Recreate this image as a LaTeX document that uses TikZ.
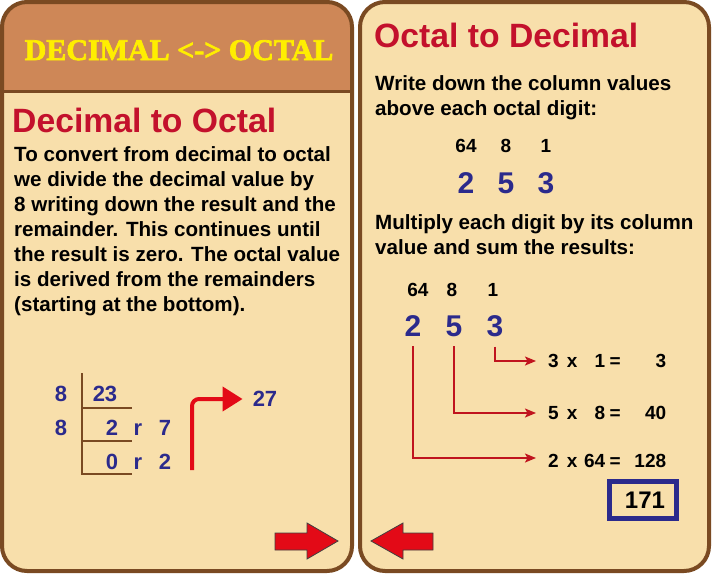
\documentclass[tikz,border=0pt]{standalone}
\usepackage{fontspec}
\setmainfont{Liberation Sans}
\newfontfamily\ttlfont[BoldFeatures={FakeBold=2.5}]{Liberation Serif}
\usetikzlibrary{arrows.meta}
\definecolor{panel}{HTML}{F8DFAB}
\definecolor{hdr}{HTML}{CE8757}
\definecolor{bord}{HTML}{7A4A22}
\definecolor{headred}{HTML}{C3112C}
\definecolor{dblue}{HTML}{2B2A8C}
\definecolor{arrred}{HTML}{E30A17}
\definecolor{linered}{HTML}{C0141E}
\definecolor{ttlyellow}{HTML}{FFEE00}
\begin{document}
\begin{tikzpicture}[x=1pt,y=-1pt,
  body/.style={font=\fontsize{20.6}{25}\selectfont\bfseries, align=left, anchor=north west, inner sep=0pt, text=black},
  head/.style={font=\fontsize{33.7}{36}\selectfont\bfseries, text=headred, anchor=base west, inner sep=0pt},
  divnum/.style={font=\fontsize{22}{24}\selectfont\bfseries, text=dblue, anchor=base, inner sep=0pt},
  colval/.style={font=\fontsize{19}{22}\selectfont\bfseries, text=black, anchor=base, inner sep=0pt},
  digit/.style={font=\fontsize{30}{32}\selectfont\bfseries, text=dblue, anchor=base, inner sep=0pt},
  eqn/.style={font=\fontsize{19}{22}\selectfont\bfseries, text=black, anchor=west, inner sep=0pt},
  eqarrow/.style={draw=linered, line width=1.6pt, -{Stealth[length=11pt,width=9pt,inset=2.5pt]}},
  bigarrow/.style={draw=arrred, line width=4pt, rounded corners=7pt, -{Triangle[length=20pt,width=24pt]}},
  divline/.style={draw=bord, line width=2pt},
  blockarrow/.style={fill=arrred, draw=black!75, line width=0.8pt, line join=miter},
  panelborder/.style={draw=bord, line width=4pt, rounded corners=25pt}
]
\newcommand{\eqrow}[3]{\makebox[14pt][l]{#1}\makebox[20pt][c]{x}\makebox[23pt][r]{#2}\makebox[20pt][c]{=}\makebox[41pt][r]{#3}}
\useasboundingbox (0,0) rectangle (713,574);
\fill[white] (0,0) rectangle (713,574);

% ---------- left panel ----------
\fill[panel, rounded corners=25pt] (2,2) rectangle (352,571);
\begin{scope}
  \clip[rounded corners=25pt] (2,2) rectangle (352,571);
  \fill[hdr] (0,0) rectangle (356,91);
\end{scope}
\draw[bord, line width=3pt] (2,91) -- (352,91);
\draw[panelborder] (2,2) rectangle (352,571);

\node[font=\ttlfont\fontsize{30}{32}\selectfont\bfseries, text=ttlyellow, anchor=base, inner sep=0pt] (ttl) at (179,60) {DECIMAL <-> OCTAL};

\node[head] (dto) at (12,132) {Decimal to Octal};
\node[body] (dtotext) at (14,146) {To convert from decimal to octal\\we divide the decimal value by\\8 writing down the result and the\\remainder. This continues until\\the result is zero. The octal value\\is derived from the remainders\\(starting at the bottom).};

% division
\draw[divline] (82,373) -- (82,475);
\draw[divline] (82,408) -- (132,408);
\draw[divline] (82,441) -- (132,441);
\draw[divline] (82,474) -- (132,474);
\node[divnum] (dv1) at (61,401.5) {8};
\node[divnum] (n23) at (105,401.5) {23};
\node[divnum] (dv2) at (61,435.5) {8};
\node[divnum] (q1) at (112,435.5) {2};
\node[divnum] (r1) at (138,435.5) {r};
\node[divnum] (m1) at (165,435.5) {7};
\node[divnum] (q2) at (112,469.5) {0};
\node[divnum] (r2) at (138,469.5) {r};
\node[divnum] (m2) at (165,469.5) {2};
\node[font=\fontsize{22}{24}\selectfont\bfseries, text=dblue, inner sep=0pt] (n27) at (265,399) {27};
\coordinate (bigstart) at (192,470);
\draw[bigarrow, shorten >=10pt] (bigstart) |- (n27.west);

% bottom block arrows
\filldraw[blockarrow] (275,533) -- (307,533) -- (307,523) -- (338,541) -- (307,559) -- (307,550) -- (275,550) -- cycle;

% ---------- right panel ----------
\fill[panel, rounded corners=25pt] (360,2) rectangle (709,571);
\draw[panelborder] (360,2) rectangle (709,571);

\filldraw[blockarrow] (433,533) -- (403,533) -- (403,523) -- (371,541) -- (403,559) -- (403,550) -- (433,550) -- cycle;

\node[head] (otd) at (374,47) {Octal to Decimal};
\node[body] (otdtext1) at (375,75.5) {Write down the column values\\above each octal digit:};

\node[colval] (c64a) at (466,152.5) {64};
\node[colval] (c8a) at (506,152.5) {8};
\node[colval] (c1a) at (546,152.5) {1};
\node[digit] (d2a) at (466,193) {2};
\node[digit] (d5a) at (506,193) {5};
\node[digit] (d3a) at (546,193) {3};

\node[body] (otdtext2) at (375,214.5) {Multiply each digit by its column\\value and sum the results:};

\node[colval] (c64b) at (418,296.5) {64};
\node[colval] (c8b) at (452,296.5) {8};
\node[colval] (c1b) at (493,296.5) {1};
\node[digit] (d2b) at (413,336) {2};
\node[digit] (d5b) at (454,336) {5};
\node[digit] (d3b) at (495,336) {3};

\node[eqn] (e3) at (548,361) {\eqrow{3}{1}{3}};
\node[eqn] (e5) at (548,413) {\eqrow{5}{8}{40}};
\node[eqn] (e2) at (548,461) {\eqrow{2}{64}{128}};

\draw[eqarrow, shorten <=10pt, shorten >=12pt] (d3b.south) |- (e3.west);
\draw[eqarrow, shorten <=10pt, shorten >=12pt] (d5b.south) |- (e5.west);
\draw[eqarrow, shorten <=10pt, shorten >=12pt] (d2b.south) |- ([yshift=3pt]e2.west);

\node[draw=dblue, line width=5pt, minimum width=67pt, minimum height=37pt, inner sep=0pt,
      font=\fontsize{24}{26}\selectfont\bfseries, text=black] (total) at (643,500) {\hspace*{4pt}171};
\end{tikzpicture}
\end{document}
